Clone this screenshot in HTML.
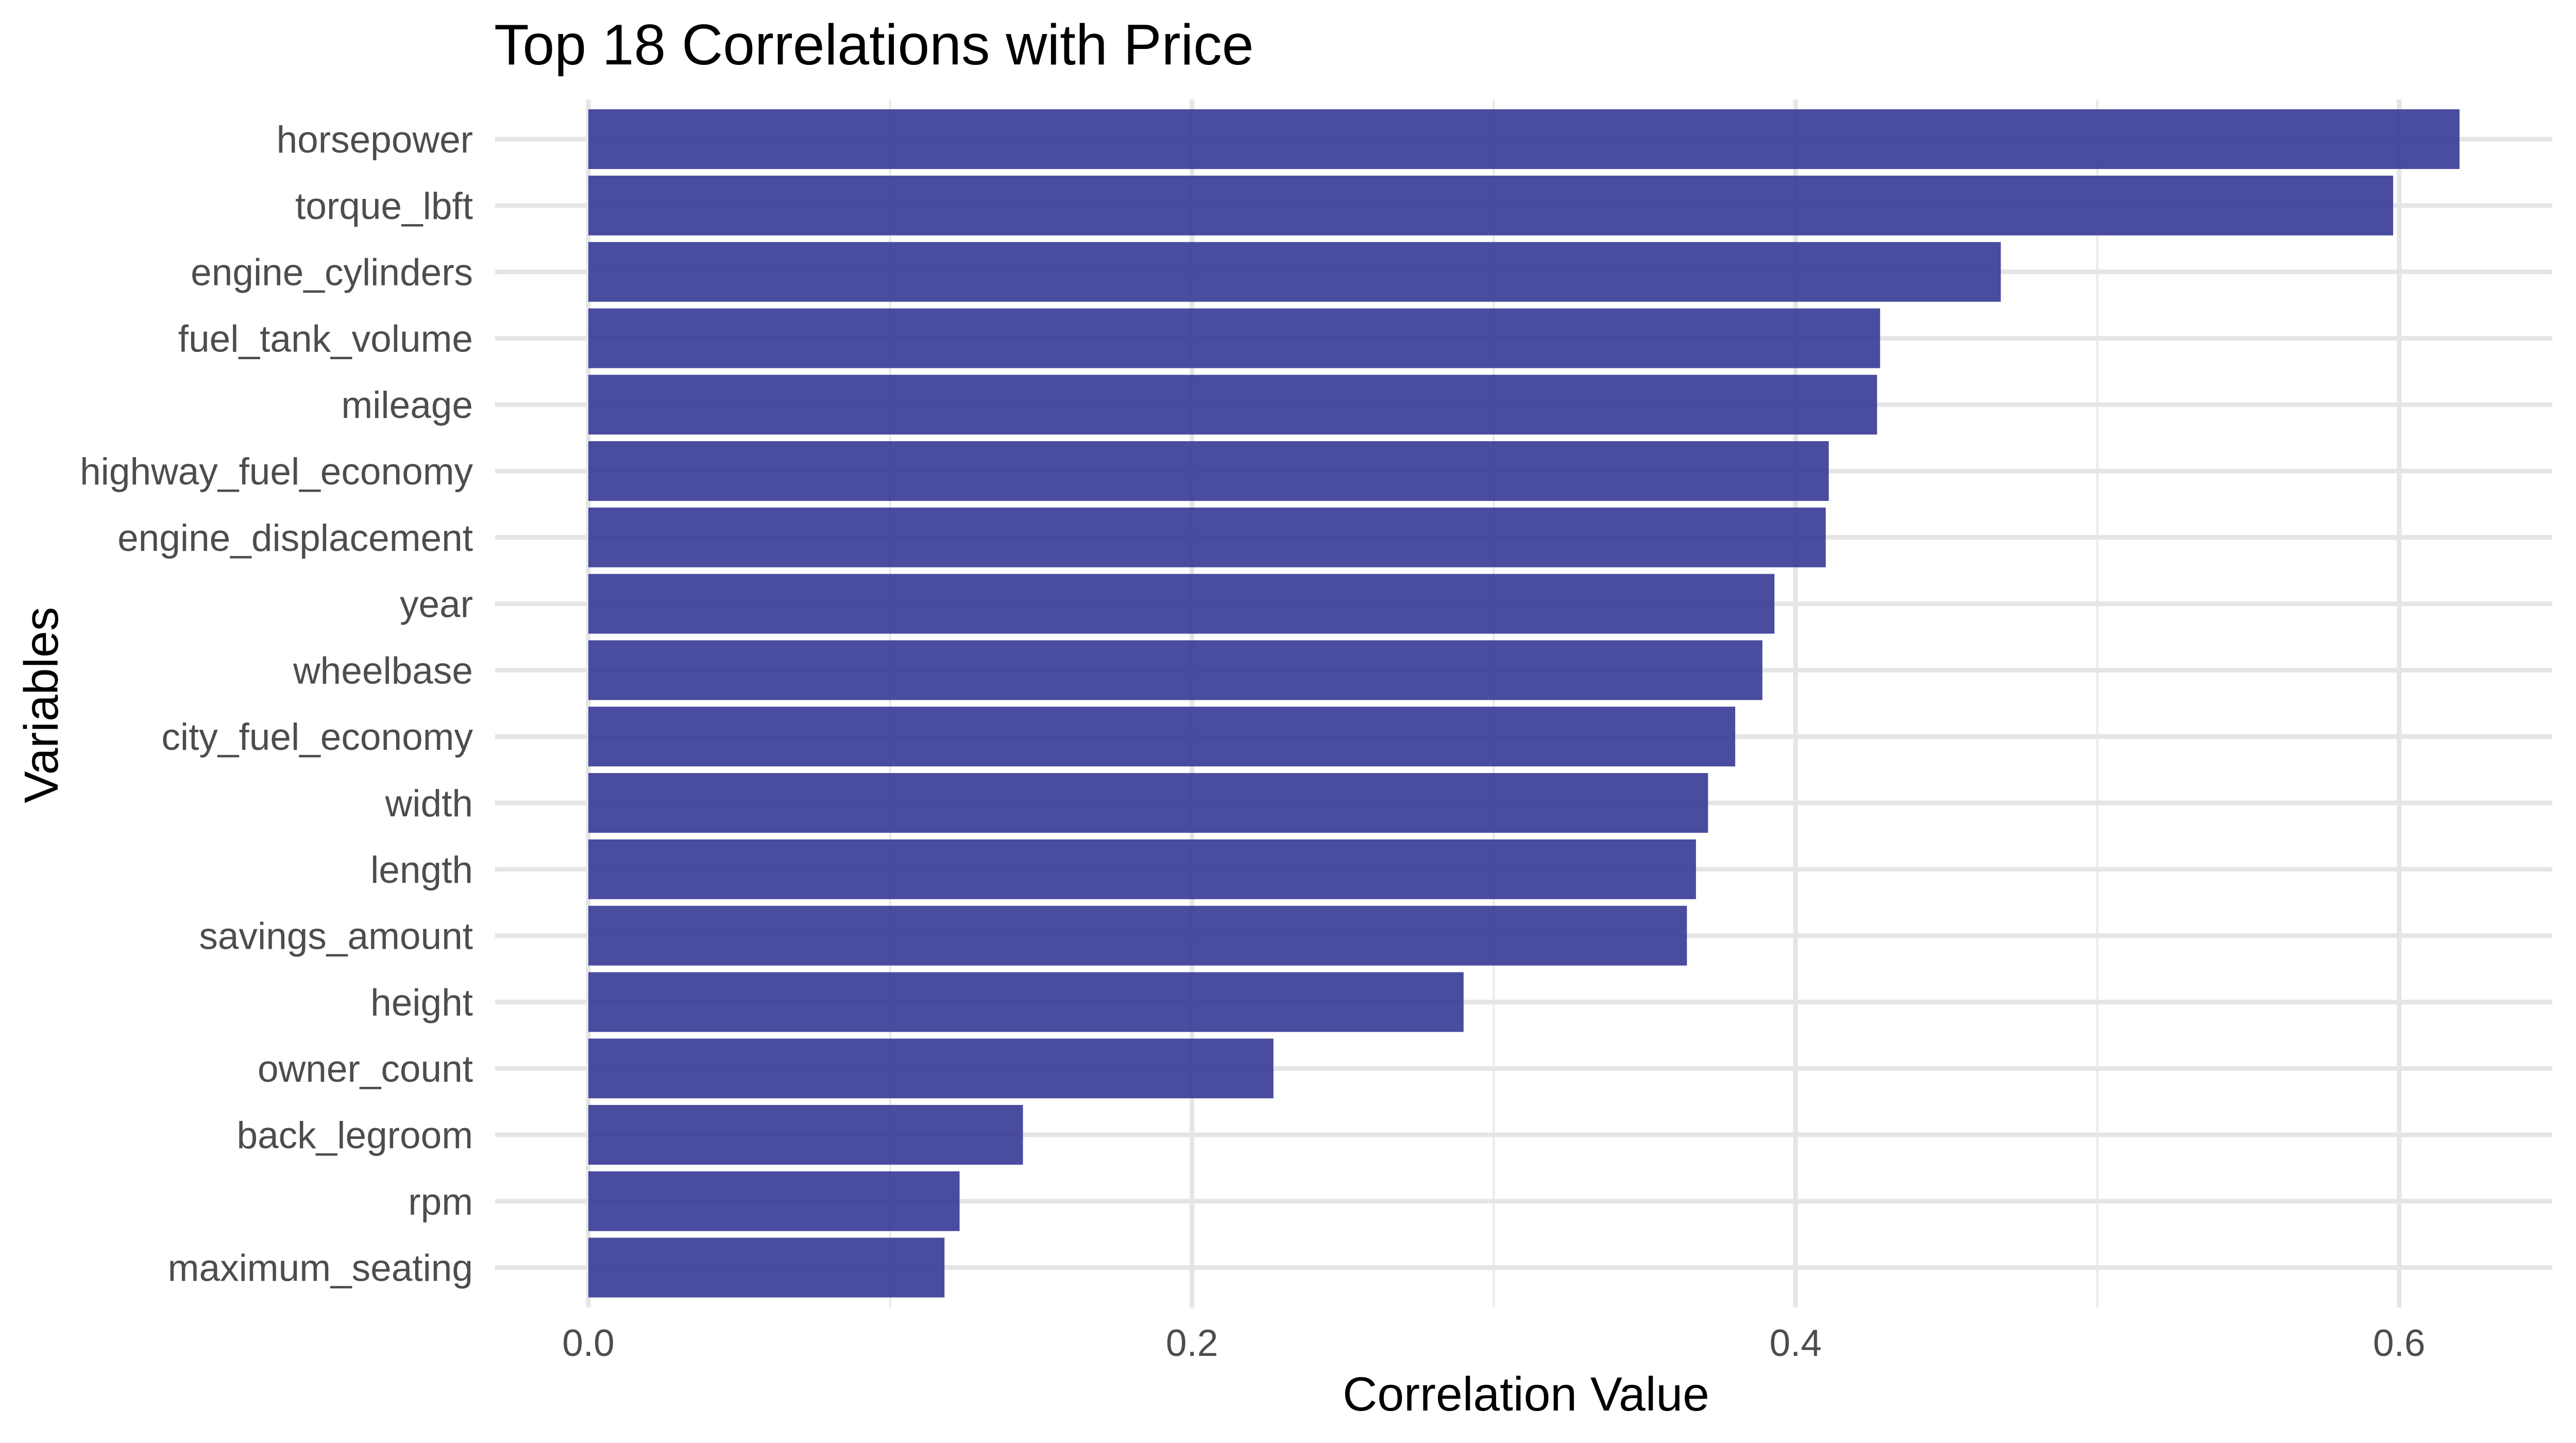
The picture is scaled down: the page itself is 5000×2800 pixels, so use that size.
<!DOCTYPE html>
<html><head><meta charset="utf-8"><style>
html,body{margin:0;padding:0;background:#fff;}
svg{display:block;font-family:"Liberation Sans",Arial,sans-serif;}
</style></head><body>
<svg id="chart" width="5000" height="2800" viewBox="0 0 5000 2800" xmlns="http://www.w3.org/2000/svg">
<rect width="5000" height="2800" fill="#fff"/>
<g id="grid"></g>
<g id="bars"></g>
<g id="ylabels"></g>
<g id="xlabels"></g>
<text x="959" y="125" font-size="111" fill="#000">Top 18 Correlations with Price</text>
<text x="2962" y="2737" font-size="93" fill="#000" text-anchor="middle">Correlation Value</text>
<text x="112" y="1368" font-size="93" fill="#000" text-anchor="middle" transform="rotate(-90 112 1368)">Variables</text>
</svg>
<script>
const categories = ["horsepower","torque_lbft","engine_cylinders","fuel_tank_volume","mileage","highway_fuel_economy","engine_displacement","year","wheelbase","city_fuel_economy","width","length","savings_amount","height","owner_count","back_legroom","rpm","maximum_seating"];
const values = [0.620,0.598,0.468,0.428,0.427,0.411,0.410,0.393,0.389,0.380,0.371,0.367,0.364,0.290,0.227,0.144,0.123,0.118];
const xTicks = [0,0.2,0.4,0.6];
const xTickLabels = ["0.0","0.2","0.4","0.6"];
const xMinor = [0.1,0.3,0.5];

const NS = "http://www.w3.org/2000/svg";
const panelL = 961, panelR = 4954, panelT = 193, panelB = 2537;
const x0 = 1142, unit = 5858;
const yFirst = 270, band = 128.8;
function xs(v){ return x0 + v*unit; }
function ys(i){ return yFirst + i*band; }
function mk(tag, attrs, parent){
  const e = document.createElementNS(NS, tag);
  for (const k in attrs) e.setAttribute(k, attrs[k]);
  parent.appendChild(e);
  return e;
}
const grid = document.getElementById('grid');
const bars = document.getElementById('bars');
const yl = document.getElementById('ylabels');
const xl = document.getElementById('xlabels');

xMinor.forEach(v => {
  const l = mk('line', {x1: xs(v), x2: xs(v), y1: panelT, y2: panelB, stroke: '#ebebeb', 'stroke-width': 4.5}, grid);
  
  
});
xTicks.forEach((v, i) => {
  const l = mk('line', {x1: xs(v), x2: xs(v), y1: panelT, y2: panelB, stroke: '#e5e5e5', 'stroke-width': 9}, grid);
  
  
  const t = mk('text', {x: xs(v), y: 2631, 'font-size': 73, fill: '#4d4d4d', 'text-anchor': 'middle'}, xl);
  t.textContent = xTickLabels[i];
  
  
});
categories.forEach((c, i) => {
  const y = ys(i);
  const g = mk('line', {x1: panelL, x2: panelR, y1: y, y2: y, stroke: '#e5e5e5', 'stroke-width': 9}, grid);
  
  
  const h = band * 0.9;
  const r = mk('rect', {x: xs(0), y: y - h/2, width: xs(values[i]) - xs(0), height: h, fill: 'rgb(54,56,150)', 'fill-opacity': 0.9}, bars);
  
  
  const t = mk('text', {x: 918, y: y + 26, 'font-size': 73, fill: '#4d4d4d', 'text-anchor': 'end'}, yl);
  t.textContent = c;
  
  
});
</script>
</body></html>
